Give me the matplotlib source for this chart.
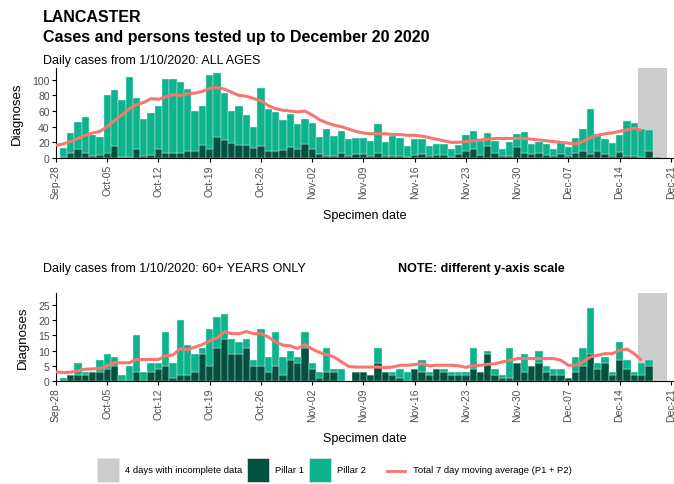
#------------------------------------------------------------------------------ #
# Modules
#------------------------------------------------------------------------------ #
import matplotlib
matplotlib.use('Agg')
import matplotlib.pyplot as plt
from matplotlib.patches import Rectangle
from matplotlib.lines import Line2D
import numpy as np

plt.rcParams['font.family'] = ['Liberation Sans', 'DejaVu Sans']

#------------------------------------------------------------------------------ #
# Data (day 0 = Sep-28; bars run Sep-29 .. Dec-20, averages Sep-28 .. Dec-17)
#------------------------------------------------------------------------------ #
tick_labels = ['Sep-28', 'Oct-05', 'Oct-12', 'Oct-19', 'Oct-26', 'Nov-02', 'Nov-09',
               'Nov-16', 'Nov-23', 'Nov-30', 'Dec-07', 'Dec-14', 'Dec-21']

all_pillar1 = [1, 7, 11, 6, 3, 4, 6, 15, 1, 1, 12, 3, 4, 11, 6, 6, 6, 9, 9, 16,
               11, 27, 23, 19, 16, 17, 13, 15, 9, 9, 10, 14, 11, 18, 12, 5, 3, 2, 6, 2,
               5, 5, 3, 6, 3, 2, 2, 1, 4, 5, 2, 4, 4, 1, 5, 9, 11, 4, 15, 7,
               2, 3, 14, 7, 5, 6, 4, 2, 5, 2, 6, 9, 5, 9, 5, 3, 8, 2, 2, 1,
               9, 0, 0]
all_pillar2 = [12, 25, 35, 46, 26, 23, 74, 72, 73, 102, 65, 47, 54, 55, 95, 95, 91, 79, 51, 51,
               95, 82, 60, 41, 50, 38, 26, 75, 53, 50, 39, 42, 32, 32, 33, 22, 34, 26, 28, 22,
               20, 21, 19, 37, 17, 26, 23, 14, 20, 19, 13, 14, 14, 10, 11, 21, 24, 18, 17, 15,
               9, 17, 17, 26, 13, 14, 14, 10, 15, 12, 19, 28, 57, 22, 19, 16, 22, 45, 43, 36,
               27, 1, 0]
all_avg = [16, 18, 21, 25, 29, 32, 34, 40, 48, 55, 63, 68, 71, 76, 75, 78, 81, 80, 82, 83,
           85, 89, 90, 88, 84, 80, 79, 76, 73, 67, 63, 61, 60, 59, 60, 55, 49, 45, 42, 40,
           37, 34, 32, 31, 31, 31, 30, 30, 29, 29, 28, 26, 24, 22, 20, 20, 21, 22, 23, 24,
           25, 25, 25, 25, 25, 24, 23, 22, 21, 20, 19, 18, 21, 26, 29, 31, 32, 34, 36, 38,
           35]

old_pillar1 = [0, 2, 2, 2, 3, 3, 4, 5, 0, 0, 3, 0, 3, 4, 5, 1, 2, 2, 3, 9,
               5, 11, 14, 9, 9, 11, 5, 5, 3, 5, 2, 7, 6, 11, 4, 1, 3, 3, 0, 0,
               3, 3, 2, 6, 3, 2, 1, 0, 4, 3, 2, 4, 3, 2, 2, 2, 4, 3, 9, 2,
               1, 1, 6, 3, 5, 6, 3, 2, 2, 1, 3, 5, 9, 4, 6, 2, 7, 4, 2, 2,
               5, 0, 0]
old_pillar2 = [1, 0, 4, 1, 0, 4, 5, 3, 2, 5, 12, 3, 3, 2, 11, 5, 18, 10, 6, 2,
               12, 10, 8, 5, 4, 3, 2, 12, 5, 11, 6, 3, 2, 5, 2, 2, 8, 1, 4, 0,
               0, 0, 0, 5, 0, 1, 3, 3, 0, 4, 1, 0, 1, 1, 1, 1, 7, 0, 1, 2,
               1, 10, 0, 6, 0, 4, 2, 2, 2, 0, 5, 6, 15, 2, 2, 1, 6, 3, 1, 4,
               2, 0, 0]
old_avg = [3.0, 2.8, 2.9, 3.4, 3.9, 4.0, 4.1, 5.0, 6.0, 6.0, 6.0, 7.1, 7.1, 7.1, 7.1, 8.3, 8.6, 10.7, 10.3, 11.2,
           12.0, 13.2, 14.2, 16.2, 15.6, 15.6, 16.3, 15.6, 15.6, 14.5, 12.9, 11.8, 11.6, 10.7, 12.0, 10.5, 9.4, 8.7, 7.9, 6.3,
           4.8, 4.6, 4.6, 4.6, 4.6, 4.4, 4.6, 5.2, 5.2, 5.4, 5.7, 5.0, 5.2, 5.2, 5.2, 5.0, 4.5, 5.0, 5.2, 5.5,
           5.7, 6.3, 6.8, 7.4, 7.4, 7.4, 7.4, 7.4, 7.4, 6.8, 5.2, 5.2, 6.3, 7.9, 8.5, 9.0, 9.0, 10.1, 10.5, 9.0,
           6.8]

incomplete_start, incomplete_days = 80, 4   # Dec-17 .. Dec-20

#------------------------------------------------------------------------------ #
# Styling
#------------------------------------------------------------------------------ #
W, H = 674, 485
col_p1 = '#03513f'
col_p2 = '#0db38c'
col_avg = '#f8766d'
col_grey = '#cccccc'
col_tick = '#4d4d4d'


def fx(px):
    return px / W


def fy(py):
    return 1 - py / H


def panel(ax, pillar1, pillar2, avg, ymax, yticks):
    days = np.arange(1, len(pillar1) + 1)
    ax.bar(incomplete_start + (incomplete_days - 1) / 2, ymax, width=incomplete_days,
           color=col_grey, zorder=0)
    ax.bar(days, pillar1, width=1, color=col_p1, edgecolor='#d8f0e8', linewidth=0.3, zorder=2)
    ax.bar(days, pillar2, bottom=pillar1, width=1, color=col_p2, edgecolor='#d8f0e8',
           linewidth=0.3, zorder=2)
    ax.plot(np.arange(len(avg)), avg, color=col_avg, lw=2.2, zorder=3, solid_capstyle='butt')
    ax.set_xlim(0, 84.3)
    ax.set_ylim(0, ymax)
    ax.set_xticks(np.arange(0, 85, 7))
    ax.set_xticklabels(tick_labels, rotation=90, fontsize=7.5, color=col_tick)
    ax.set_yticks(yticks)
    ax.tick_params(axis='y', labelsize=7.5, labelcolor=col_tick, length=3, pad=1.5)
    ax.tick_params(axis='x', length=3, pad=1.5)
    for s in ['top', 'right']:
        ax.spines[s].set_visible(False)
    ax.set_ylabel('Diagnoses', fontsize=9.5, labelpad=7)
    ax.set_xlabel('Specimen date', fontsize=9, labelpad=8)


fig = plt.figure(figsize=(W / 100, H / 100), dpi=100)

ax1 = fig.add_axes([fx(56), fy(159), fx(673 - 56), (159 - 69) / H])
panel(ax1, all_pillar1, all_pillar2, all_avg, 115, [0, 20, 40, 60, 80, 100])

ax2 = fig.add_axes([fx(56), fy(382), fx(673 - 56), (382 - 294) / H])
panel(ax2, old_pillar1, old_pillar2, old_avg, 29, [0, 5, 10, 15, 20, 25])

# titles
fig.text(fx(43), fy(18), 'LANCASTER', fontsize=11.5, fontweight='bold', va='center')
fig.text(fx(43), fy(38), 'Cases and persons tested up to December 20 2020', fontsize=11.5,
         fontweight='bold', va='center')
fig.text(fx(43), fy(61), 'Daily cases from 1/10/2020: ALL AGES', fontsize=9, va='center')
fig.text(fx(43), fy(269), 'Daily cases from 1/10/2020: 60+ YEARS ONLY', fontsize=9, va='center')
fig.text(fx(398), fy(269), 'NOTE: different y-axis scale', fontsize=9, fontweight='bold',
         va='center')

# legend
leg_y = 471
for x0, col, label in [(97, col_grey, '4 days with incomplete data'),
                       (247, col_p1, 'Pillar 1'),
                       (309, col_p2, 'Pillar 2')]:
    fig.add_artist(Rectangle((fx(x0), fy(leg_y + 12)), fx(22), 24 / H, transform=fig.transFigure,
                             facecolor=col, edgecolor='#e8e8e8', lw=0.5))
    fig.text(fx(x0 + 28), fy(leg_y), label, fontsize=6.8, va='center')
fig.add_artist(Line2D([fx(387), fx(405)], [fy(leg_y + 1), fy(leg_y + 1)], color=col_avg, lw=2,
                      transform=fig.transFigure))
fig.text(fx(413), fy(leg_y), 'Total 7 day moving average (P1 + P2)', fontsize=6.8, va='center')

fig.savefig('out.png', dpi=100)
